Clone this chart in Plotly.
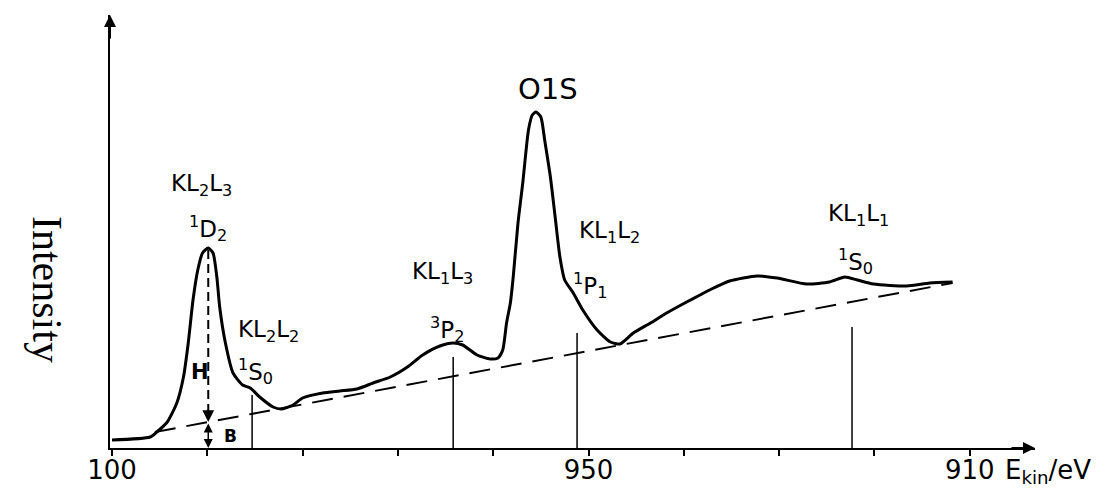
import plotly.graph_objects as go

# ---------------- data (kinetic energy in eV, intensity in arbitrary units) -------------
energy = [1000.0, 996.0, 995.3, 994.2, 993.2, 992.5, 992.0, 991.5, 991.0, 990.5, 989.9,
          989.4, 989.0, 988.7, 988.1, 987.3, 986.3, 985.5, 984.5, 983.1, 982.2, 981.0,
          980.0, 977.9, 976.1, 974.3, 972.6, 970.8, 969.0, 967.4, 965.6, 964.2, 963.2,
          961.7, 960.3, 959.5, 959.0, 958.6, 958.2, 957.9, 957.4, 956.9, 956.3, 955.9,
          955.5, 955.0, 954.6, 954.0, 953.5, 953.0, 952.5, 951.6, 950.6, 949.1, 947.7,
          946.7, 945.3, 943.5, 941.8, 939.7, 938.3, 937.3, 935.2, 932.3, 930.2, 927.1,
          924.7, 923.1, 921.8, 920.1, 916.6, 914.2, 911.8]
intensity = [8, 11, 16, 26, 45, 71, 105, 148, 178, 195, 200,
             195, 171, 141, 105, 75, 63, 60, 51, 41, 39, 43,
             50, 55, 57, 59, 65, 71, 81, 93, 102, 105, 103,
             93, 89, 90, 98, 125, 145, 171, 225, 265, 318, 333,
             336, 331, 308, 271, 231, 191, 168, 155, 138, 118, 106,
             104, 115, 125, 135, 146, 153, 158, 167, 172, 170, 164,
             166, 171, 168, 164, 162, 165, 166]

baseline_energy = [995.5, 911.8]
baseline_intensity = [16, 165]

# marker lines for the Auger transitions
marker_energy = [985.3, 964.2, 951.2, 922.35]
marker_top = [53, 91, 115, 121]

# height / background construction for the KL2L3 1D2 peak
hb_energy = 989.9
hb_peak = 198
hb_base = 26

tick_vals = [1000, 990, 980, 970, 960, 950, 940, 930, 920, 910]
tick_text = ["100", "", "", "", "", "950", "", "", "", "910"]

label_text = ["KL<sub>2</sub>L<sub>3</sub>", "<sup>1</sup>D<sub>2</sub>",
              "KL<sub>2</sub>L<sub>2</sub>", "<sup>1</sup>S<sub>0</sub>",
              "KL<sub>1</sub>L<sub>3</sub>", "<sup>3</sup>P<sub>2</sub>",
              "KL<sub>1</sub>L<sub>2</sub>", "<sup>1</sup>P<sub>1</sub>",
              "KL<sub>1</sub>L<sub>1</sub>", "<sup>1</sup>S<sub>0</sub>"]
label_energy = [990.6, 989.9, 983.6, 984.9, 965.3, 964.8, 947.8, 949.8, 921.7, 922.0]
label_intensity = [263, 220, 117, 77, 175, 119, 216, 163, 233, 187]

FONT = "DejaVu Sans"

fig = go.Figure()

# spectrum
fig.add_trace(go.Scatter(x=energy, y=intensity, mode="lines",
                         line=dict(color="black", width=3, shape="spline", smoothing=0.6),
                         hoverinfo="skip", showlegend=False))
# background (dashed)
fig.add_trace(go.Scatter(x=baseline_energy, y=baseline_intensity, mode="lines",
                         line=dict(color="black", width=2, dash="21px,11px"),
                         hoverinfo="skip", showlegend=False))
# vertical transition markers
mx, my = [], []
for e, t in zip(marker_energy, marker_top):
    mx += [e, e, None]
    my += [0, t, None]
fig.add_trace(go.Scatter(x=mx, y=my, mode="lines", line=dict(color="black", width=1.5),
                         hoverinfo="skip", showlegend=False))
# H (dashed) line
fig.add_trace(go.Scatter(x=[hb_energy, hb_energy], y=[hb_peak, hb_base + 10], mode="lines",
                         line=dict(color="black", width=2, dash="9px,5px"),
                         hoverinfo="skip", showlegend=False))

annotations = []
for t, e, i in zip(label_text, label_energy, label_intensity):
    annotations.append(dict(x=e, y=i, xref="x", yref="y", text=t, showarrow=False,
                            font=dict(family=FONT, size=23, color="black")))
annotations.append(dict(x=954.2, y=359, xref="x", yref="y", text="O1S", showarrow=False,
                        font=dict(family=FONT, size=29, color="black")))
annotations.append(dict(x=990.8, y=76, xref="x", yref="y", text="<b>H</b>", showarrow=False,
                        font=dict(family=FONT, size=21, color="black")))
annotations.append(dict(x=987.6, y=12, xref="x", yref="y", text="<b>B</b>", showarrow=False,
                        font=dict(family=FONT, size=17, color="black")))
# H arrow head
annotations.append(dict(x=hb_energy, y=hb_base, xref="x", yref="y", ax=hb_energy, ay=hb_base + 14,
                        axref="x", ayref="y", text="", showarrow=True, arrowhead=2,
                        arrowsize=1.3, arrowwidth=1.8, arrowcolor="black"))
# B double arrow
annotations.append(dict(x=hb_energy, y=0, xref="x", yref="y", ax=hb_energy, ay=hb_base,
                        axref="x", ayref="y", text="", showarrow=True, arrowhead=2,
                        startarrowhead=2, arrowside="end+start", arrowsize=1.2,
                        startarrowsize=1.2, arrowwidth=1.5, arrowcolor="black"))
# axis arrows
annotations.append(dict(x=1, y=0, xref="paper", yref="paper", ax=-25, ay=0, text="",
                        showarrow=True, arrowhead=2, arrowsize=1.2, arrowwidth=2,
                        arrowcolor="black"))
annotations.append(dict(x=0, y=1, xref="paper", yref="paper", ax=0, ay=25, text="",
                        showarrow=True, arrowhead=2, arrowsize=1.2, arrowwidth=2,
                        arrowcolor="black"))
# axis titles
annotations.append(dict(x=-0.095, y=0.367, xref="paper", yref="paper", text="Intensity",
                        textangle=90, showarrow=False,
                        font=dict(family="Liberation Serif", size=42, color="black")))
annotations.append(dict(x=1.0, y=-0.012, xref="paper", yref="paper", xshift=-32,
                        text="E<sub>kin</sub>/eV", showarrow=False, xanchor="left",
                        yanchor="top",
                        font=dict(family=FONT, size=26, color="black")))

# the page body adds an 8px offset; the figure is sized to fill the rest of the window
fig.update_layout(
    width=1101, height=480,
    margin=dict(l=102, r=74, t=7, b=40, autoexpand=False),
    paper_bgcolor="white", plot_bgcolor="white",
    showlegend=False,
    annotations=annotations,
    xaxis=dict(range=[1000.21, 903.15], showline=True, linecolor="black", linewidth=2,
               ticks="outside", ticklen=6, tickwidth=1.5, tickcolor="black",
               tickvals=tick_vals, ticktext=tick_text, showgrid=False, zeroline=False,
               automargin=False, ticklabelstandoff=-8,
               tickfont=dict(family=FONT, size=26, color="black")),
    yaxis=dict(range=[0, 433], showline=True, linecolor="black", linewidth=2,
               showticklabels=False, ticks="", showgrid=False, zeroline=False,
               automargin=False),
)

fig.write_html("out.html")
